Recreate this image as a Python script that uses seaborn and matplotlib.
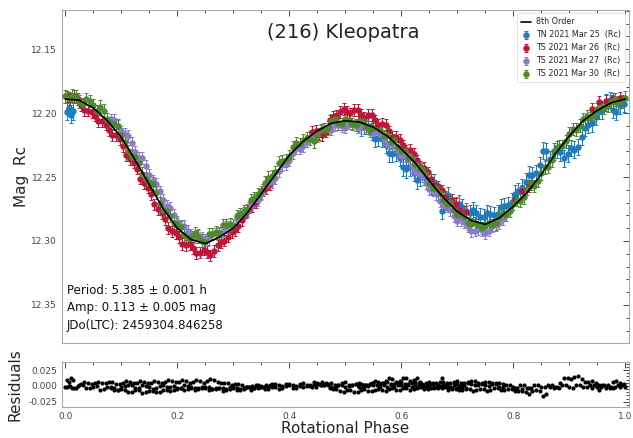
import numpy as np
import pandas as pd
import matplotlib
matplotlib.use("Agg")
import matplotlib.pyplot as plt
import seaborn as sns
from matplotlib.ticker import MultipleLocator, AutoMinorLocator

# ---------------- data ----------------
fit_phase = [0.000, 0.025, 0.050, 0.075, 0.100, 0.125, 0.150, 0.175, 0.200, 0.225,
             0.250, 0.275, 0.300, 0.325, 0.350, 0.375, 0.400, 0.425, 0.450, 0.475,
             0.500, 0.525, 0.550, 0.575, 0.600, 0.625, 0.650, 0.675, 0.700, 0.725,
             0.750, 0.775, 0.800, 0.825, 0.850, 0.875, 0.900, 0.925, 0.950, 0.975, 1.000]
fit_mag = [12.189, 12.190, 12.196, 12.206, 12.219, 12.237, 12.256, 12.275, 12.290, 12.299,
           12.302, 12.297, 12.290, 12.278, 12.263, 12.248, 12.233, 12.222, 12.214, 12.208,
           12.206, 12.207, 12.211, 12.218, 12.228, 12.239, 12.253, 12.266, 12.277, 12.284,
           12.287, 12.282, 12.273, 12.262, 12.248, 12.232, 12.218, 12.206, 12.198, 12.192, 12.189]

tn25_phase = [0.002, 0.006, 0.010, 0.014, 0.522, 0.534, 0.547, 0.559, 0.572, 0.584,
              0.597, 0.609, 0.622, 0.634, 0.647, 0.659, 0.672, 0.684, 0.697, 0.709,
              0.722, 0.734, 0.747, 0.759, 0.772, 0.784, 0.797, 0.809, 0.822, 0.834,
              0.847, 0.859, 0.872, 0.884, 0.897, 0.909, 0.922, 0.934, 0.947, 0.959,
              0.972, 0.984, 0.997,
              0.528, 0.541, 0.553, 0.566, 0.578, 0.591, 0.603, 0.616, 0.628, 0.641,
              0.653, 0.666, 0.678, 0.691, 0.703, 0.716, 0.728, 0.741, 0.753, 0.766,
              0.778, 0.791, 0.803, 0.816, 0.828, 0.841, 0.853, 0.866, 0.878, 0.891,
              0.903, 0.916, 0.928, 0.941, 0.953, 0.966, 0.978, 0.991]
tn25_mag = [12.1990, 12.1960, 12.2014, 12.1986, 12.2090, 12.2095, 12.2145, 12.2195, 12.2250, 12.2318,
            12.2348, 12.2440, 12.2468, 12.2503, 12.2535, 12.2540, 12.2765, 12.2640, 12.2718, 12.2735,
            12.2780, 12.2782, 12.2816, 12.2792, 12.2786, 12.2727, 12.2692, 12.2610, 12.2535, 12.2488,
            12.2408, 12.2300, 12.2300, 12.2308, 12.2318, 12.2285, 12.2185, 12.2090, 12.2030, 12.1978,
            12.1898, 12.1990, 12.1930,
            12.2112, 12.2100, 12.2200, 12.2203, 12.2314, 12.2313, 12.2424, 12.2424, 12.2526, 12.2499,
            12.2568, 12.2623, 12.2683, 12.2699, 12.2707, 12.2768, 12.2761, 12.2809, 12.2784, 12.2799,
            12.2737, 12.2720, 12.2631, 12.2583, 12.2482, 12.2468, 12.2294, 12.2360, 12.2284, 12.2353,
            12.2272, 12.2265, 12.2118, 12.2080, 12.1984, 12.1918, 12.1974, 12.1940]

ts26_phase = [0.003, 0.016, 0.028, 0.041, 0.053, 0.066, 0.078, 0.091, 0.103, 0.116,
              0.128, 0.141, 0.153, 0.166, 0.178, 0.191, 0.203, 0.216, 0.228, 0.241,
              0.253, 0.266, 0.278, 0.291, 0.303, 0.316, 0.328, 0.341, 0.353, 0.366,
              0.441, 0.453, 0.466, 0.478, 0.491, 0.503, 0.516, 0.528, 0.541, 0.553,
              0.566, 0.578, 0.591, 0.603, 0.616, 0.628, 0.641, 0.653, 0.666, 0.678,
              0.691, 0.703, 0.716, 0.803, 0.816, 0.828, 0.941, 0.953, 0.966, 0.978, 0.991,
              0.009, 0.022, 0.034, 0.047, 0.059, 0.072, 0.084, 0.097, 0.109, 0.122,
              0.134, 0.147, 0.159, 0.172, 0.184, 0.197, 0.209, 0.222, 0.234, 0.247,
              0.259, 0.272, 0.284, 0.297, 0.309, 0.322, 0.334, 0.347, 0.359,
              0.447, 0.459, 0.472, 0.484, 0.497, 0.509, 0.522, 0.534, 0.547, 0.559,
              0.572, 0.584, 0.597, 0.609, 0.622, 0.634, 0.647, 0.659, 0.672, 0.684,
              0.697, 0.709]
ts26_mag = [12.1870, 12.1867, 12.1935, 12.1980, 12.2020, 12.2065, 12.2135, 12.2170, 12.2260, 12.2360,
            12.2435, 12.2550, 12.2635, 12.2750, 12.2830, 12.2925, 12.2970, 12.3035, 12.3055, 12.3090,
            12.3085, 12.3080, 12.3010, 12.2965, 12.2915, 12.2835, 12.2740, 12.2695, 12.2600, 12.2555,
            12.2150, 12.2165, 12.2145, 12.2030, 12.1990, 12.1990, 12.1975, 12.2015, 12.2015, 12.2058,
            12.2085, 12.2143, 12.2185, 12.2253, 12.2290, 12.2370, 12.2430, 12.2518, 12.2573, 12.2655,
            12.2680, 12.2760, 12.2775, 12.2678, 12.2610, 12.2570, 12.1970, 12.1913, 12.1902, 12.1886, 12.1881,
            12.1889, 12.1891, 12.1978, 12.1990, 12.2063, 12.2090, 12.2173, 12.2205, 12.2330, 12.2388,
            12.2513, 12.2583, 12.2713, 12.2780, 12.2898, 12.2938, 12.3023, 12.3025, 12.3093, 12.3068,
            12.3113, 12.3035, 12.2998, 12.2930, 12.2885, 12.2778, 12.2728, 12.2638, 12.2588,
            12.2138, 12.2175, 12.2058, 12.2020, 12.1970, 12.2003, 12.1975, 12.2035, 12.2017, 12.2092,
            12.2094, 12.2184, 12.2209, 12.2292, 12.2320, 12.2420, 12.2464, 12.2566, 12.2604, 12.2688,
            12.2710, 12.2778]

ts27_phase = [0.081, 0.094, 0.106, 0.119, 0.131, 0.144, 0.156, 0.169, 0.181, 0.194,
              0.206, 0.219, 0.231, 0.244, 0.256, 0.269, 0.281, 0.294, 0.306, 0.319,
              0.331, 0.344, 0.356, 0.369, 0.381, 0.394, 0.406, 0.419, 0.431, 0.444,
              0.456, 0.469, 0.481, 0.494, 0.506, 0.519, 0.531, 0.544, 0.556, 0.569,
              0.581, 0.594, 0.606, 0.619, 0.631, 0.644, 0.656, 0.669, 0.681, 0.694,
              0.706, 0.719, 0.731, 0.744, 0.756, 0.769, 0.781,
              0.087, 0.100, 0.112, 0.125, 0.137, 0.150, 0.162, 0.175, 0.187, 0.200,
              0.212, 0.225, 0.237, 0.250, 0.262, 0.275, 0.287, 0.300, 0.312, 0.325,
              0.337, 0.350, 0.362, 0.375, 0.387, 0.400, 0.412, 0.425, 0.437, 0.450,
              0.462, 0.475, 0.487, 0.500, 0.512, 0.525, 0.537, 0.550, 0.562, 0.575,
              0.587, 0.600, 0.612, 0.625, 0.637, 0.650, 0.662, 0.675, 0.687, 0.700,
              0.712, 0.725, 0.737, 0.750, 0.762, 0.775]
ts27_mag = [12.2050, 12.2100, 12.2165, 12.2235, 12.2348, 12.2413, 12.2528, 12.2613, 12.2728, 12.2793,
            12.2883, 12.2918, 12.2968, 12.2973, 12.2988, 12.2943, 12.2923, 12.2898, 12.2830, 12.2780,
            12.2723, 12.2678, 12.2573, 12.2538, 12.2453, 12.2398, 12.2313, 12.2278, 12.2220, 12.2190,
            12.2135, 12.2125, 12.2095, 12.2105, 12.2083, 12.2098, 12.2090, 12.2130, 12.2148, 12.2203,
            12.2235, 12.2295, 12.2338, 12.2413, 12.2465, 12.2545, 12.2603, 12.2688, 12.2728, 12.2803,
            12.2838, 12.2883, 12.2918, 12.2913, 12.2918, 12.2873, 12.2828,
            12.2055, 12.2143, 12.2180, 12.2302, 12.2351, 12.2481, 12.2551, 12.2681, 12.2741, 12.2848,
            12.2881, 12.2953, 12.2951, 12.2991, 12.2946, 12.2943, 12.2891, 12.2874, 12.2785, 12.2762,
            12.2681, 12.2636, 12.2546, 12.2506, 12.2406, 12.2366, 12.2276, 12.2259, 12.2185, 12.2173,
            12.2120, 12.2130, 12.2090, 12.2114, 12.2081, 12.2114, 12.2100, 12.2159, 12.2166, 12.2239,
            12.2255, 12.2337, 12.2366, 12.2459, 12.2495, 12.2594, 12.2636, 12.2728, 12.2756, 12.2841,
            12.2851, 12.2921, 12.2906, 12.2936, 12.2886, 12.2861]

ts30_phase = [0.000, 0.0125, 0.025, 0.0375, 0.050, 0.0625, 0.075, 0.0875, 0.100, 0.1125,
              0.125, 0.1375, 0.150, 0.1625, 0.175, 0.1875, 0.200, 0.2125, 0.225, 0.2375,
              0.250, 0.2625, 0.275, 0.2875, 0.300, 0.3125, 0.325, 0.3375, 0.350, 0.3625,
              0.375, 0.3875, 0.400, 0.4125, 0.425, 0.4375, 0.450, 0.4625, 0.475, 0.4875,
              0.500, 0.5125, 0.525, 0.5375, 0.550,
              0.625, 0.6375, 0.650, 0.6625, 0.675, 0.6875, 0.700, 0.7125, 0.725, 0.7375,
              0.750, 0.7625, 0.775, 0.7875, 0.800, 0.8125, 0.825, 0.8375, 0.850, 0.8625,
              0.875, 0.8875, 0.900, 0.9125, 0.925, 0.9375, 0.950, 0.9625, 0.975, 0.9875, 1.000,
              0.006, 0.019, 0.031, 0.044, 0.056, 0.069, 0.081, 0.094, 0.106, 0.119,
              0.131, 0.144, 0.156, 0.169, 0.181, 0.194, 0.206, 0.219, 0.231, 0.244,
              0.256, 0.269, 0.281, 0.294, 0.306, 0.319, 0.331, 0.344, 0.356, 0.369,
              0.381, 0.394, 0.406, 0.419, 0.431, 0.444, 0.456, 0.469, 0.481, 0.494,
              0.506, 0.519, 0.531, 0.544,
              0.5625, 0.569, 0.575, 0.581, 0.5875, 0.594, 0.600, 0.606, 0.6125, 0.619,
              0.631, 0.644, 0.656, 0.669, 0.681, 0.694, 0.706, 0.719, 0.731, 0.744,
              0.756, 0.769, 0.781, 0.794, 0.806, 0.819, 0.831, 0.844, 0.856, 0.869,
              0.881, 0.894, 0.906, 0.919, 0.931, 0.944, 0.956, 0.969, 0.981, 0.994]
ts30_mag = [12.1870, 12.1865, 12.1910, 12.1890, 12.1940, 12.1950, 12.2050, 12.2085, 12.2170, 12.2300,
            12.2340, 12.2475, 12.2540, 12.2625, 12.2760, 12.2805, 12.2870, 12.2955, 12.2970, 12.2965,
            12.3010, 12.2945, 12.2940, 12.2875, 12.2880, 12.2790, 12.2760, 12.2665, 12.2620, 12.2505,
            12.2460, 12.2375, 12.2340, 12.2235, 12.2210, 12.2200, 12.2180, 12.2130, 12.2060, 12.2080,
            12.2050, 12.2085, 12.2060, 12.2110, 12.2120,
            12.2400, 12.2440, 12.2550, 12.2585, 12.2680, 12.2695, 12.2800, 12.2815, 12.2870, 12.2875,
            12.2880, 12.2875, 12.2810, 12.2795, 12.2710, 12.2685, 12.2590, 12.2570, 12.2470, 12.2420,
            12.2300, 12.2260, 12.2160, 12.2130, 12.2050, 12.2040, 12.1970, 12.1960, 12.1910, 12.1915, 12.1880,
            12.1888, 12.1868, 12.1930, 12.1905, 12.1985, 12.1980, 12.2078, 12.2098, 12.2225, 12.2340,
            12.2388, 12.2518, 12.2553, 12.2703, 12.2763, 12.2858, 12.2893, 12.2973, 12.2938, 12.2998,
            12.2948, 12.2933, 12.2878, 12.2868, 12.2805, 12.2765, 12.2683, 12.2633, 12.2543, 12.2493,
            12.2388, 12.2368, 12.2268, 12.2243, 12.2195, 12.2220, 12.2135, 12.2115, 12.2050, 12.2085,
            12.2058, 12.2093, 12.2065, 12.2135,
            12.2135, 12.2183, 12.2170, 12.2225, 12.2210, 12.2265, 12.2300, 12.2298, 12.2355, 12.2353,
            12.2430, 12.2475, 12.2588, 12.2623, 12.2708, 12.2758, 12.2798, 12.2863, 12.2863, 12.2898,
            12.2858, 12.2863, 12.2783, 12.2763, 12.2678, 12.2658, 12.2550, 12.2530, 12.2425, 12.2370,
            12.2260, 12.2220, 12.2125, 12.2100, 12.2025, 12.2015, 12.1955, 12.1945, 12.1893, 12.1908]

series_labels = ["TN 2021 Mar 25  (Rc)", "TS 2021 Mar 26  (Rc)",
                 "TS 2021 Mar 27  (Rc)", "TS 2021 Mar 30  (Rc)"]
series_err = [0.0065, 0.0045, 0.0045, 0.005]
series_colors = ["#1f7bbf", "#bf1538", "#8b7cc8", "#4e8a2c"]

info_lines = ["Period: 5.385 \u00b1 0.001 h", "Amp: 0.113 \u00b1 0.005 mag",
              "JDo(LTC): 2459304.846258"]

# ---------------- figure ----------------
sns.set_theme(style="white")
plt.rcParams["font.family"] = ["DejaVu Sans"]

fig = plt.figure(figsize=(6.33, 4.38), dpi=100)
ax = fig.add_axes([0.098, 0.217, 0.895, 0.760])
axr = fig.add_axes([0.098, 0.070, 0.895, 0.103], sharex=ax)

phases = [tn25_phase, ts26_phase, ts27_phase, ts30_phase]
mags = [tn25_mag, ts26_mag, ts27_mag, ts30_mag]

sns.lineplot(x=fit_phase, y=fit_mag, color="black", lw=1.2, sort=False,
             label="8th Order", ax=ax, zorder=10)

res_frames = []
for ph, mg, lab, er, col in zip(phases, mags, series_labels, series_err, series_colors):
    ax.errorbar(ph, mg, yerr=er, fmt="o", ms=3.6, color=col, ecolor=col,
                elinewidth=0.8, capsize=1.5, capthick=0.7, mec=col, label=lab, zorder=3)
    ph_a = np.asarray(ph)
    res = np.asarray(mg) - np.interp(ph_a, fit_phase, fit_mag)
    res_frames.append(pd.DataFrame({"phase": ph_a, "resid": res}))

res_df = pd.concat(res_frames, ignore_index=True)
sns.scatterplot(data=res_df, x="phase", y="resid", color="black", s=9,
                linewidth=0, ax=axr)

ax.set_xlim(-0.006, 1.006)
ax.set_ylim(12.3797, 12.1195)
axr.set_ylim(-0.034, 0.0375)

ax.yaxis.set_major_locator(MultipleLocator(0.05))
ax.yaxis.set_minor_locator(AutoMinorLocator())
ax.xaxis.set_major_locator(MultipleLocator(0.2))
ax.xaxis.set_minor_locator(MultipleLocator(0.05))
axr.yaxis.set_major_locator(MultipleLocator(0.025))
axr.yaxis.set_minor_locator(AutoMinorLocator())
ax.yaxis.set_major_formatter(plt.FormatStrFormatter("%.2f"))
axr.yaxis.set_major_formatter(plt.FormatStrFormatter("%.3f"))
axr.xaxis.set_major_formatter(plt.FormatStrFormatter("%.1f"))

for a in (ax, axr):
    a.tick_params(which="both", direction="in", top=True, right=True,
                  labelsize=6.5, colors="#444444", width=0.7)
    a.tick_params(which="major", length=4)
    a.tick_params(which="minor", length=2)
    for s in a.spines.values():
        s.set_color("#aaaaaa")
        s.set_linewidth(0.8)
    a.set_facecolor("white")

ax.tick_params(labelbottom=False)
ax.set_xlabel("")
ax.set_ylabel("Mag  Rc", fontsize=11, labelpad=2)
axr.set_ylabel("Residuals", fontsize=11, labelpad=4)
axr.set_xlabel("Rotational Phase", fontsize=11, labelpad=0)

ax.text(0.497, 0.934, "(216) Kleopatra", transform=ax.transAxes,
        ha="center", va="center", fontsize=14, color="#222222")

for i, t in enumerate(info_lines):
    ax.text(0.008, 0.159 - i * 0.053, t, transform=ax.transAxes,
            ha="left", va="center", fontsize=8.5, color="#111111")

leg = ax.legend(loc="upper right", fontsize=5.8, frameon=True, framealpha=1,
                edgecolor="#dddddd", borderaxespad=0.4, handlelength=1.3,
                handletextpad=0.6, labelspacing=0.5, borderpad=0.5)
leg.get_frame().set_linewidth(0.6)

fig.savefig("out.png", dpi=100, facecolor="white")
